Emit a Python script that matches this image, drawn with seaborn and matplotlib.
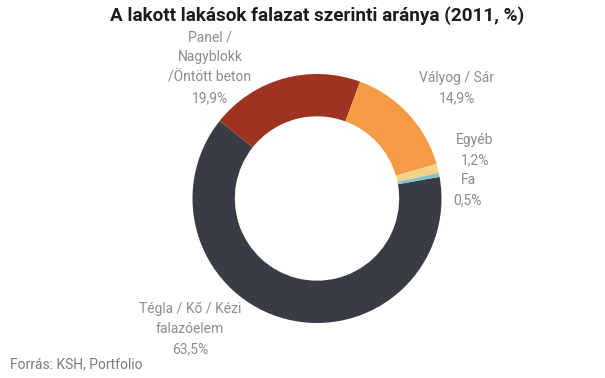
import seaborn as sns
import matplotlib.pyplot as plt
import numpy as np

sns.set_style('white')
plt.rcParams['font.family'] = ['Roboto', 'DejaVu Sans']

# data, clockwise order
labels = ['Tégla / Kő / Kézi\nfalazóelem', 'Panel /\nNagyblokk\n/Öntött beton', 'Vályog / Sár', 'Egyéb', 'Fa']
values = [63.5, 19.9, 14.9, 1.2, 0.5]
colors = ['#393c44', '#a03221', '#f59b45', '#f6d287', '#80c2d2']

# label anchor positions in pixels (center x, top y)
label_pos = [(190, 302), (210, 30), (457, 71), (475, 133), (468, 173)]

W, H = 605, 378
fig = plt.figure(figsize=(W / 100, H / 100), dpi=100)

cx, cy, r = 317, 198.5, 124.5
ax = fig.add_axes([(cx - r) / W, 1 - (cy + r) / H, 2 * r / W, 2 * r / H])
ax.pie(values, colors=sns.color_palette(colors), startangle=10, counterclock=False,
       radius=1, wedgeprops=dict(width=0.34, linewidth=0))
ax.set_xlim(-1, 1)
ax.set_ylim(-1, 1)
ax.axis('off')

for lab, val, (px, py) in zip(labels, values, label_pos):
    txt = lab + '\n' + f'{val:.1f}'.replace('.', ',') + '%'
    fig.text(px / W, 1 - py / H, txt, ha='center', va='top', fontsize=10,
             color='#8c8c8c', linespacing=1.58)

fig.text(317 / W, 1 - 16 / H, 'A lakott lakások falazat szerinti aránya (2011, %)',
         ha='center', va='center', fontsize=13.6, fontweight='bold', color='#1f1b1b')
fig.text(10 / W, 1 - 364 / H, 'Forrás: KSH, Portfolio', ha='left', va='center',
         fontsize=10, color='#7a7a7a')

plt.savefig('out.png', dpi=100)
